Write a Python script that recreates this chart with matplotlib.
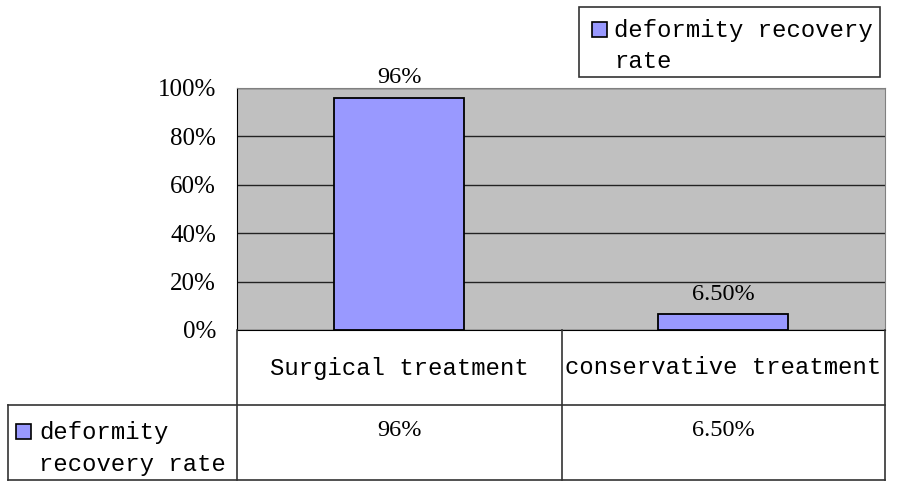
import matplotlib.pyplot as plt
from matplotlib.patches import Rectangle

categories = ["Surgical treatment", "conservative treatment"]
rates = [96, 6.5]
rate_labels = ["96%", "6.50%"]
series_name = "deformity recovery rate"
yticks = [0, 20, 40, 60, 80, 100]

mono = "Liberation Mono"
serif = "Liberation Serif"
bar_color = "#9999ff"

fig = plt.figure(figsize=(9, 4.88), dpi=100)

# plot area
ax = fig.add_axes([237 / 900, 1 - 330 / 488, 648 / 900, 242 / 488])
ax.set_facecolor("#c0c0c0")
x = range(len(categories))
ax.bar(x, rates, width=0.4, color=bar_color, edgecolor="black", linewidth=1.3, zorder=3)
for xi, lab, v in zip(x, rate_labels, rates):
    ax.text(xi, v + 4, lab, ha="center", va="bottom", fontsize=17.5, family=serif)
ax.set_xlim(-0.5, len(categories) - 0.5)
ax.set_ylim(0, 100)
ax.set_yticks(yticks)
ax.set_yticklabels([f"{t}%" for t in yticks], fontsize=18, family=serif)
ax.set_xticks([])
ax.yaxis.grid(True, color="#222222", linewidth=1)
ax.tick_params(axis="y", length=0, pad=15)
for s in ["top", "right"]:
    ax.spines[s].set_color("#808080")
ax.spines["left"].set_color("black")
ax.spines["bottom"].set_color("black")

# overlay in pixel coords for data table and legend
ov = fig.add_axes([0, 0, 1, 1])
ov.set_xlim(0, 900)
ov.set_ylim(488, 0)
ov.axis("off")

lw = 1.2
lc = "#333333"
# table lines
ov.plot([237, 237], [330, 480], color=lc, lw=lw)
ov.plot([562, 562], [330, 480], color=lc, lw=lw)
ov.plot([885, 885], [330, 480], color=lc, lw=lw)
ov.plot([8, 885], [405, 405], color=lc, lw=lw)
ov.plot([8, 885], [480, 480], color=lc, lw=lw)
ov.plot([8, 8], [405, 480], color=lc, lw=lw)

col_x = [399.5, 723.5]
for cx, cat, lab in zip(col_x, categories, rate_labels):
    ov.text(cx, 368, cat, ha="center", va="center", fontsize=17.2, family=mono)
    ov.text(cx, 431, lab, ha="center", va="center", fontsize=17.5, family=serif)

ov.add_patch(Rectangle((16, 424), 15, 15, facecolor=bar_color, edgecolor="black", lw=1.2))
ov.text(39, 432, "deformity", ha="left", va="center", fontsize=17.2, family=mono)
ov.text(39, 465, "recovery rate", ha="left", va="center", fontsize=17.2, family=mono)

# legend box
ov.add_patch(Rectangle((579, 7), 301, 70, facecolor="white", edgecolor=lc, lw=lw))
ov.add_patch(Rectangle((592, 22), 15, 15, facecolor=bar_color, edgecolor="black", lw=1.2))
ov.text(614, 30, "deformity recovery", ha="left", va="center", fontsize=17.2, family=mono)
ov.text(614, 61, "rate", ha="left", va="center", fontsize=17.2, family=mono)

fig.savefig("out.png", dpi=100)
